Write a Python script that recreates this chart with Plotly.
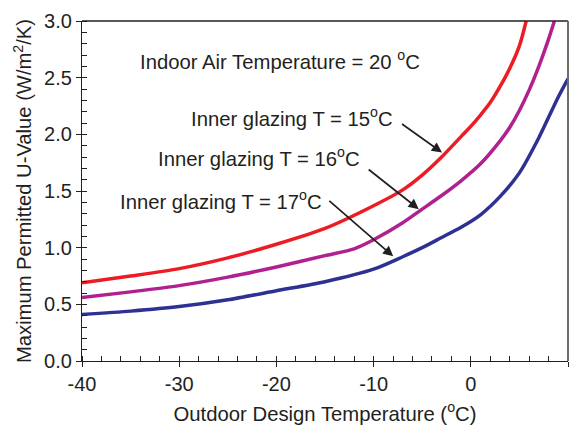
import plotly.graph_objects as go

# Outdoor design temperature (°C) and maximum permitted U-value (W/m²/K)
t_15 = [-40, -35, -30, -25, -20, -15, -10, -7, -5, -3, -1, 0, 1, 2, 3, 4, 5, 5.7]
u_15 = [0.69, 0.75, 0.815, 0.91, 1.03, 1.17, 1.37, 1.51, 1.64, 1.80, 1.98, 2.07, 2.17, 2.28, 2.42, 2.58, 2.78, 3.0]

t_16 = [-40, -35, -30, -25, -20, -15, -12, -10, -7, -5, -3, -1, 1, 3, 4, 5, 6, 7, 8, 8.6]
u_16 = [0.56, 0.61, 0.665, 0.74, 0.83, 0.93, 0.99, 1.07, 1.22, 1.34, 1.46, 1.59, 1.74, 1.94, 2.06, 2.21, 2.39, 2.6, 2.84, 3.0]

t_17 = [-40, -35, -30, -25, -20, -15, -10, -7, -5, -3, -1, 1, 3, 5, 7, 9, 10]
u_17 = [0.41, 0.44, 0.48, 0.54, 0.62, 0.70, 0.81, 0.92, 1.0, 1.09, 1.18, 1.29, 1.45, 1.66, 1.97, 2.33, 2.49]

series_names = ["Inner glazing T = 15<sup>o</sup>C",
                "Inner glazing T = 16<sup>o</sup>C",
                "Inner glazing T = 17<sup>o</sup>C"]
series_colors = ["#ED1C24", "#B0218F", "#2E3192"]

x_ticks = [-40, -30, -20, -10, 0, 10]
y_ticks = [0.0, 0.5, 1.0, 1.5, 2.0, 2.5, 3.0]

TEXT = "#231F20"
FONT = "Liberation Sans, Arial, sans-serif"

fig = go.Figure()
for xs, ys, name, col in zip([t_15, t_16, t_17], [u_15, u_16, u_17], series_names, series_colors):
    fig.add_trace(go.Scatter(
        x=xs, y=ys, mode="lines", name=name,
        line=dict(color=col, width=3.5, shape="spline", smoothing=0.7),
        hoverinfo="skip", showlegend=False,
    ))

# Label text and arrows pointing at each curve
fig.add_annotation(x=-19.6, y=2.654, xref="x", yref="y",
                   text="Indoor Air Temperature = 20 <sup>o</sup>C",
                   showarrow=False, font=dict(size=20.3, color=TEXT, family=FONT))

labels = [
    (series_names[0], -18.37, 2.154, (-7.23, 2.10), (-2.96, 1.84)),
    (series_names[1], -21.81, 1.80, (-10.66, 1.70), (-5.35, 1.34)),
    (series_names[2], -25.75, 1.418, (-14.71, 1.425), (-7.98, 0.924)),
]
for text, lx, ly, tail, head in labels:
    fig.add_annotation(x=lx, y=ly, xref="x", yref="y", text=text, showarrow=False,
                       font=dict(size=20.3, color=TEXT, family=FONT))
    fig.add_annotation(x=head[0], y=head[1], ax=tail[0], ay=tail[1],
                       xref="x", yref="y", axref="x", ayref="y", text="",
                       showarrow=True, arrowhead=2, arrowsize=1.2, arrowwidth=1.7,
                       arrowcolor="#231F20")

# Frame: black top edge, grey right edge
fig.add_shape(type="line", xref="paper", yref="paper", x0=0, x1=1, y0=1, y1=1,
              line=dict(color="#231F20", width=1.3))
fig.add_shape(type="line", xref="paper", yref="paper", x0=1, x1=1, y0=0, y1=1,
              line=dict(color="#6d6d6d", width=2))

fig.update_xaxes(
    range=[-40, 10], tickvals=x_ticks, ticktext=[str(v) for v in x_ticks],
    showgrid=False, zeroline=False, showline=True, linecolor="#231F20", linewidth=1.3,
    ticks="outside", ticklen=5, tickcolor="#231F20", tickwidth=1.2,
    minor=dict(dtick=2, ticks="inside", ticklen=5, tickcolor="#231F20", tickwidth=1, showgrid=False),
    tickfont=dict(size=20, color=TEXT, family=FONT),
    title=dict(text="Outdoor Design Temperature (<sup>o</sup>C)", standoff=12,
               font=dict(size=20.3, color=TEXT, family=FONT)),
)
fig.update_yaxes(
    range=[0, 3.0], tickvals=y_ticks, ticktext=[f"{v:.1f}" for v in y_ticks],
    showgrid=False, zeroline=False, showline=True, linecolor="#231F20", linewidth=1.3,
    ticks="outside", ticklen=5, tickcolor="#231F20", tickwidth=1.2,
    minor=dict(dtick=0.1, ticks="inside", ticklen=5, tickcolor="#231F20", tickwidth=1, showgrid=False),
    tickfont=dict(size=20, color=TEXT, family=FONT),
    title=dict(text="Maximum Permitted U-Value (W/m<sup>2</sup>/K)", standoff=6,
               font=dict(size=20.2, color=TEXT, family=FONT)),
)

fig.update_layout(
    width=577, height=431,
    margin=dict(l=81.5, r=9.3, t=20.7, b=70.3, pad=0),
    plot_bgcolor="white", paper_bgcolor="white",
    font=dict(family=FONT, color=TEXT),
)

fig.write_html("out.html")
